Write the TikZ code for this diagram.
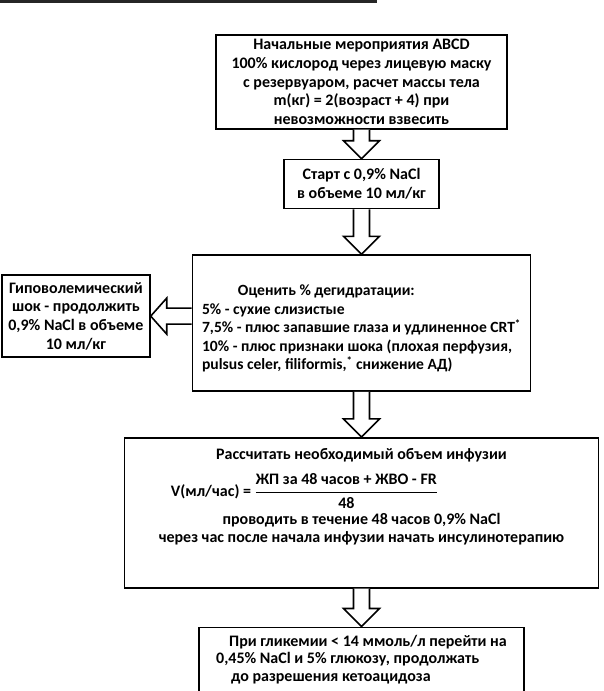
\documentclass[tikz,border=0pt]{standalone}
\usepackage{fontspec}
\usepackage{amsmath}
\setmainfont{Carlito}
\usepackage{tikz}
\usetikzlibrary{calc, positioning}

% hollow block arrows between named nodes
\newcommand{\downblock}[2]{%
  \draw[blockarr] let \p1=(#1.south), \p2=(#2.north) in
    (\x1-8pt,\y1) -- (\x1-8pt,\y2+18pt) -- (\x1-18pt,\y2+18pt) -- (\x1,\y2)
    -- (\x1+18pt,\y2+18pt) -- (\x1+8pt,\y2+18pt) -- (\x1+8pt,\y1);}
\newcommand{\leftblock}[2]{%
  \draw[blockarr] let \p1=(#1.west), \p2=(#2.east) in
    (\x1,\y2+8pt) -- (\x2+16pt,\y2+8pt) -- (\x2+16pt,\y2+18pt) -- (\x2,\y2)
    -- (\x2+16pt,\y2-18pt) -- (\x2+16pt,\y2-8pt) -- (\x1,\y2-8pt);}

\begin{document}
\begin{tikzpicture}[x=1pt, y=1pt,
  box/.style={rectangle, draw, line width=1.6pt, fill=white,
              align=center, inner sep=4pt,
              font=\bfseries\fontsize{16}{18.8}\selectfont},
  blockarr/.style={draw, line width=1.6pt, fill=white, line join=miter}
]
  \useasboundingbox (0,0) rectangle (603,-691);
  \draw[line width=2.6pt, black!85] (0,-1.5) -- (377,-1.5);

  \node[box, minimum width=291pt, minimum height=90pt] (start) at (361.5,-82) {
    Начальные мероприятия ABCD\\
    100\% кислород через лицевую маску\\
    с резервуаром, расчет массы тела\\
    m(кг) = 2(возраст + 4) при\\
    невозможности взвесить
  };
  \node[box, minimum width=155pt, minimum height=49pt, below=29pt of start] (saline) {
    Старт с 0,9\% NaCl\\
    в объеме 10 мл/кг
  };
  \node[box, align=left, inner sep=3pt, minimum width=338pt, minimum height=136pt,
        font=\bfseries\fontsize{15.6}{18.5}\selectfont, below=45pt of saline] (dehyd) {
    \rule{0pt}{22pt}\hspace*{2.3em}Оценить \% дегидратации:\\
    5\% - сухие слизистые\\
    7,5\% - плюс запавшие глаза и удлиненное CRT\textsuperscript{*}\\
    10\% - плюс признаки шока (плохая перфузия,\\
    pulsus celer, filiformis,\textsuperscript{*} снижение АД)
  };
  \node[box, minimum width=148pt, minimum height=82pt, left=41pt of dehyd, yshift=7pt] (shock) {
    Гиповолемический\\
    шок - продолжить\\
    0,9\% NaCl в объеме\\
    10 мл/кг
  };
  \node[box, minimum width=474pt, minimum height=150pt,
        font=\bfseries\fontsize{16}{17.5}\selectfont, below=45pt of dehyd] (infusion) {
    Рассчитать необходимый объем инфузии\\[11pt]
    V(мл/час) = $\genfrac{}{}{1.2pt}{0}{\text{ЖП за 48 часов + ЖВО - FR}}{\text{48}}$\hspace*{114pt}\mbox{}\\[4pt]
    проводить в течение 48 часов 0,9\% NaCl\\
    через час после начала инфузии начать инсулинотерапию\rule[-35pt]{0pt}{35pt}
  };
  \node[box, align=left, minimum width=325pt, minimum height=68pt,
        font=\bfseries\fontsize{16}{17.5}\selectfont, below=38pt of infusion] (glucose) {
    \hspace*{13pt}При гликемии < 14 ммоль/л перейти на\\
    0,45\% NaCl и 5\% глюкозу, продолжать\\
    \hspace*{15pt}до разрешения кетоацидоза\rule[-6pt]{0pt}{6pt}
  };

  \downblock{start}{saline}
  \downblock{saline}{dehyd}
  \downblock{dehyd}{infusion}
  \downblock{infusion}{glucose}
  \leftblock{dehyd}{shock}
\end{tikzpicture}
\end{document}
